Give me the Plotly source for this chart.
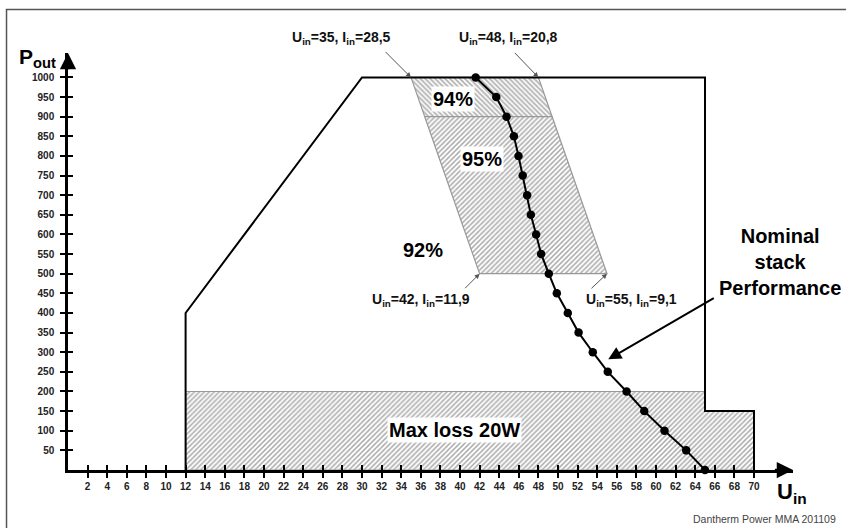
import plotly.graph_objects as go

# ---------------- data ----------------
# Nominal stack performance curve (U_in vs P_out)
curve_u = [41.6, 43.7, 44.75, 45.5, 45.97, 46.4, 46.85, 47.23, 47.77, 48.28, 49.06,
           49.88, 51.0, 52.1, 53.55, 55.08, 57.0, 58.8, 60.87, 63.08, 65.0]
curve_p = [1000, 950, 900, 850, 800, 750, 700, 650, 600, 550, 500,
           450, 400, 350, 300, 250, 200, 150, 100, 50, 0]

# Operating envelope
env_u = [12, 12, 30, 65, 65, 70, 70]
env_p = [0, 400, 1000, 1000, 150, 150, 0]

# Max loss 20W region
loss_u = [12, 12, 65, 65, 70, 70, 12]
loss_p = [0, 200, 200, 150, 150, 0, 0]

# Efficiency bands
eff94_u = [35, 48, 49.4, 36.4, 35]
eff94_p = [1000, 1000, 900, 900, 1000]
eff95_u = [36.4, 49.4, 55, 42, 36.4]
eff95_p = [900, 900, 500, 500, 900]

# Corner labels of the efficiency band
corner_u = [35, 48, 42, 55]
corner_p = [1000, 1000, 500, 500]
corner_text = ["U<sub>in</sub>=35, I<sub>in</sub>=28,5",
               "U<sub>in</sub>=48, I<sub>in</sub>=20,8",
               "U<sub>in</sub>=42, I<sub>in</sub>=11,9",
               "U<sub>in</sub>=55, I<sub>in</sub>=9,1"]

x_ticks = list(range(2, 71, 2))
y_ticks = list(range(50, 1001, 50))

X_MAX = 73.98
Y_MAX = 1062.2

FONT = "Liberation Sans, Arial, sans-serif"
HATCH = "#5a5a5a"

fig = go.Figure()

# hatched regions
def hatch(u, p, shape):
    fig.add_trace(go.Scatter(
        x=u, y=p, mode="lines", fill="toself",
        line=dict(color="#999999", width=1.2),
        fillcolor="white",
        fillpattern=dict(shape=shape, fgcolor=HATCH, bgcolor="white", size=3.5, solidity=0.45),
        hoverinfo="skip", showlegend=False))

hatch(loss_u, loss_p, "/")
hatch(eff94_u, eff94_p, "\\")
hatch(eff95_u, eff95_p, "/")

# envelope
fig.add_trace(go.Scatter(
    x=env_u, y=env_p, mode="lines",
    line=dict(color="black", width=2),
    hoverinfo="skip", showlegend=False, cliponaxis=False))

# nominal curve
fig.add_trace(go.Scatter(
    x=curve_u, y=curve_p, mode="lines+markers",
    line=dict(color="black", width=2),
    marker=dict(color="black", size=8.5),
    showlegend=False, cliponaxis=False))

# invisible trace for tick overlay axes
fig.add_trace(go.Scatter(x=[1], y=[1], xaxis="x2", yaxis="y2", mode="markers",
                         marker=dict(opacity=0), showlegend=False, hoverinfo="skip"))

tickfont = dict(family=FONT, size=10, color="#222222", weight="bold")

fig.update_layout(
    width=846, height=528,
    margin=dict(l=68, r=53, t=53, b=58),
    paper_bgcolor="white", plot_bgcolor="white",
    xaxis=dict(range=[0, X_MAX], tickvals=x_ticks, ticktext=[str(v) for v in x_ticks],
               ticks="outside", ticklen=5, tickwidth=2, tickcolor="black",
               showline=True, linewidth=2.5, linecolor="black",
               showgrid=False, zeroline=False, tickfont=tickfont, fixedrange=True),
    yaxis=dict(range=[0, Y_MAX], tickvals=y_ticks, ticktext=[str(v) for v in y_ticks],
               ticks="outside", ticklen=5, tickwidth=2, tickcolor="black",
               showline=True, linewidth=2.5, linecolor="black",
               showgrid=False, zeroline=False, tickfont=tickfont,
               ticklabelstandoff=4, fixedrange=True),
    xaxis2=dict(range=[0, X_MAX], overlaying="x", anchor="y2", side="bottom",
                tickvals=x_ticks, ticks="inside", ticklen=5, tickwidth=2, tickcolor="black",
                showticklabels=False, showgrid=False, zeroline=False, showline=False),
    yaxis2=dict(range=[0, Y_MAX], overlaying="y", anchor="x2", side="left",
                tickvals=y_ticks, ticks="inside", ticklen=5, tickwidth=2, tickcolor="black",
                showticklabels=False, showgrid=False, zeroline=False, showline=False),
)

ann = []
# axis arrowheads
ann.append(dict(x=X_MAX, y=0, ax=X_MAX - 2, ay=0, xref="x", yref="y", axref="x", ayref="y",
                text="", showarrow=True, arrowhead=2, arrowsize=1.3, arrowwidth=2.5,
                arrowcolor="black"))
ann.append(dict(x=0, y=Y_MAX, ax=0, ay=Y_MAX - 45, xref="x", yref="y", axref="x", ayref="y",
                text="", showarrow=True, arrowhead=2, arrowsize=1.3, arrowwidth=2.5,
                arrowcolor="black"))

# axis titles
ann.append(dict(x=-0.0414, y=0.988, xref="paper", yref="paper", text="P<sub>out</sub>",
                xanchor="center", yanchor="middle",
                showarrow=False, font=dict(family=FONT, size=21, color="black", weight="bold")))
ann.append(dict(x=0.9986, y=-0.055, xref="paper", yref="paper", text="U<sub>in</sub>",
                xanchor="center", yanchor="middle",
                showarrow=False, font=dict(family=FONT, size=22, color="black", weight="bold")))
ann.append(dict(x=1.062, y=-0.1175, xref="paper", yref="paper", xanchor="right", yanchor="middle",
                text="Dantherm Power MMA 201109", showarrow=False,
                font=dict(family=FONT, size=10.5, color="#444444")))

bold20 = dict(family=FONT, size=20, color="black", weight="bold")
ann.append(dict(x=39.3, y=945, text="94%", showarrow=False, font=bold20, bgcolor="white", borderpad=1))
ann.append(dict(x=42.2, y=791, text="95%", showarrow=False, font=bold20, bgcolor="white", borderpad=1))
ann.append(dict(x=36.2, y=560, text="92%", showarrow=False, font=bold20))
ann.append(dict(x=39.4, y=102, text="Max loss 20W", showarrow=False, font=bold20,
                bgcolor="white", borderpad=1))
ann.append(dict(x=72.65, y=530, text="Nominal<br>stack<br>Performance", showarrow=False,
                font=bold20, align="center"))
# Nominal arrow
ann.append(dict(x=55.13, y=282, ax=107, ay=-62, text="", showarrow=True, arrowhead=2,
                arrowsize=1.3, arrowwidth=2, arrowcolor="black"))

# corner labels (positions in paper fractions of the plot area)
label_x = [0.3779, 0.6075, 0.4869, 0.7766]
label_y = [1.036, 1.036, 0.408, 0.408]
arrow_off = [(-27, -27), (-25, -26), (-16, 16), (-17, 16)]
small = dict(family=FONT, size=14, color="#111111", weight="bold")
for lx, ly, (ox, oy), u, p, t in zip(label_x, label_y, arrow_off, corner_u, corner_p, corner_text):
    ann.append(dict(x=lx, y=ly, xref="paper", yref="paper", xanchor="center", yanchor="middle",
                    text=t, showarrow=False, font=small))
    ann.append(dict(x=u, y=p, ax=ox, ay=oy, text="", showarrow=True, arrowhead=2,
                    arrowsize=1, arrowwidth=1, arrowcolor="#555555"))

fig.update_layout(annotations=ann)

# outer frame (left and top edges)
fig.add_shape(type="path", xref="paper", yref="paper",
              path="M -0.0848,-0.3 L -0.0848,1.1043 L 1.3,1.1043",
              line=dict(color="#555555", width=1.5))

fig.write_html("out.html", post_script="document.body.style.margin='0';",
               config={"displayModeBar": False})
